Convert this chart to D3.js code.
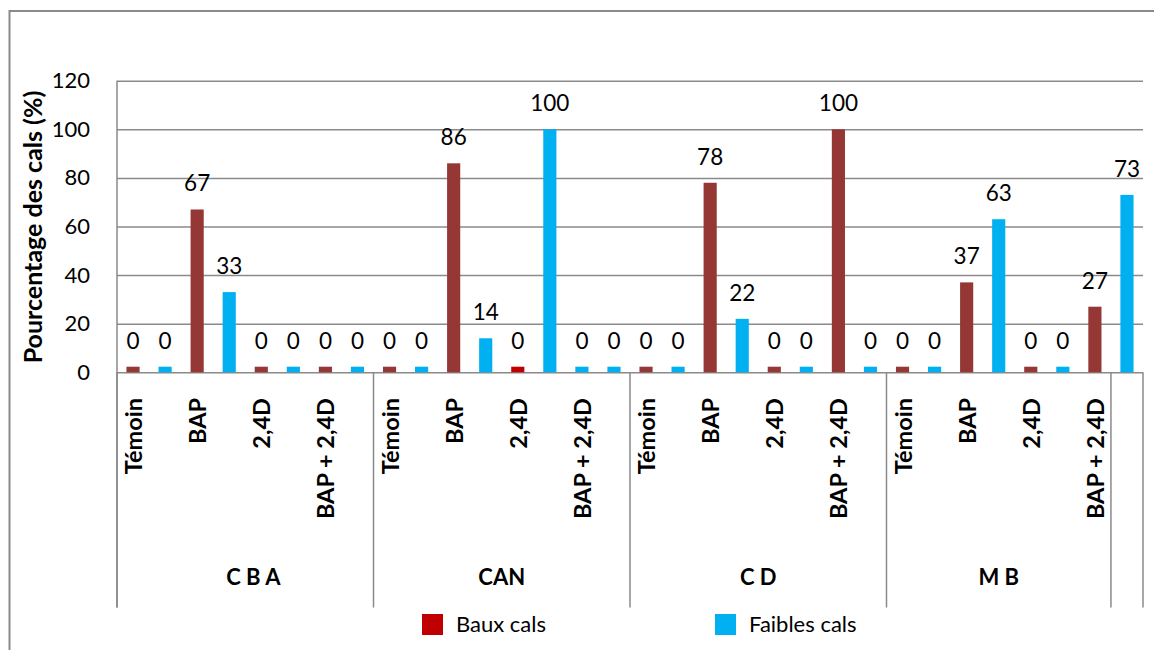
<!DOCTYPE html>
<html><head><meta charset="utf-8">
<script src="https://cdn.jsdelivr.net/npm/d3@7/dist/d3.min.js"></script>
<style>
body{margin:0;background:#fff}
svg{display:block}
text{font-family:Lato,"Open Sans",sans-serif;fill:#000}
</style>
</head><body>
<svg id="c" width="1154" height="650"></svg>
<script>
// ---- data ----
const slotLabels = [
  "Témoin","","BAP","","2,4D","","BAP + 2,4D","",
  "Témoin","","BAP","","2,4D","","BAP + 2,4D","",
  "Témoin","","BAP","","2,4D","","BAP + 2,4D","",
  "Témoin","","BAP","","2,4D","","BAP + 2,4D",
  ""
];
const slotGroups = [
  "C B A","C B A","C B A","C B A","C B A","C B A","C B A","C B A",
  "CAN","CAN","CAN","CAN","CAN","CAN","CAN","CAN",
  "C D","C D","C D","C D","C D","C D","C D","C D",
  "M B","M B","M B","M B","M B","M B","M B",
  ""
];
const slotSeries = [
  "baux","faibles","baux","faibles","baux","faibles","baux","faibles",
  "baux","faibles","baux","faibles","baux2","faibles","faibles","faibles",
  "baux","faibles","baux","faibles","baux","faibles","baux","faibles",
  "baux","faibles","baux","faibles","baux","faibles","baux","faibles"
];
const values = [
  0,0,67,33,0,0,0,0,
  0,0,86,14,0,100,0,0,
  0,0,78,22,0,0,100,0,
  0,0,37,63,0,0,27,73
];
const yTicks = [0,20,40,60,80,100,120];
const legendNames = ["Baux cals","Faibles cals"];
const yTitle = "Pourcentage des cals (%)";

// ---- style ----
const colors = {baux:"#953735", baux2:"#C00000", faibles:"#00B0F0"};
const legendColors = ["#C00000","#00B0F0"];
const gridColor = "#8a8a8a";
const plotL = 117, plotR = 1143, plotT = 80.7, plotB = 372.3, axisBottom = 607.5;
const zeroStub = 2.3;
const fs = 22;

const svg = d3.select("#c");
svg.append("rect").attr("width",1154).attr("height",650).attr("fill","#fff");

// outer frame
svg.append("path").attr("d","M9.5,650V11H1154").attr("fill","none")
  .attr("stroke",gridColor).attr("stroke-width",2);

const x = d3.scaleBand().domain(d3.range(values.length)).range([plotL,plotR]).padding(0);
const y = d3.scaleLinear().domain([0,120]).range([plotB,plotT]);

// y axis with gridlines
const yAxis = svg.append("g").attr("transform",`translate(${plotL},0)`)
  .call(d3.axisLeft(y).tickValues(yTicks).tickSize(-(plotR-plotL)).tickPadding(27));
yAxis.select(".domain").remove();
yAxis.selectAll(".tick line").attr("stroke",gridColor).attr("stroke-width",1.5);
yAxis.selectAll(".tick text").attr("font-size",fs).attr("font-family","Lato").attr("fill","#000");

// value axis line
svg.append("line").attr("x1",plotL).attr("x2",plotL).attr("y1",plotT).attr("y2",axisBottom)
  .attr("stroke",gridColor).attr("stroke-width",1.5);

// group boundaries
const groups = [];
slotGroups.forEach((g,i)=>{
  if(i===0 || g!==slotGroups[i-1]) groups.push({name:g,start:i,end:i});
  else groups[groups.length-1].end = i;
});
const bounds = groups.map(g=>x(g.start)).concat([plotR]);
svg.selectAll(".gb").data(bounds).enter().append("line")
  .attr("x1",d=>d).attr("x2",d=>d).attr("y1",plotB).attr("y2",axisBottom)
  .attr("stroke",gridColor).attr("stroke-width",1.5);

// bars
const bw = x.bandwidth()*0.41;
const shown = v => Math.max(v, zeroStub);
svg.selectAll(".bar").data(values).enter().append("rect")
  .attr("x",(d,i)=>x(i)+(x.bandwidth()-bw)/2)
  .attr("y",d=>y(shown(d)))
  .attr("width",bw)
  .attr("height",d=>y(0)-y(shown(d)))
  .attr("fill",(d,i)=>colors[slotSeries[i]]);

// value labels
svg.selectAll(".vl").data(values).enter().append("text")
  .attr("x",(d,i)=>x(i)+x.bandwidth()/2)
  .attr("y",d=>y(shown(d))-18)
  .attr("text-anchor","middle").attr("font-size",fs+0.5)
  .text(d=>d);

// category labels
svg.selectAll(".cl").data(slotLabels).enter().append("text")
  .attr("transform",(d,i)=>`translate(${x(i)+x.bandwidth()/2},398) rotate(-90)`)
  .attr("text-anchor","end").attr("dominant-baseline","central")
  .attr("font-size",fs+1.5).attr("font-weight","bold")
  .text(d=>d);

// group labels
svg.selectAll(".gl").data(groups).enter().append("text")
  .attr("x",g=>(x(g.start)+x(g.end)+x.bandwidth())/2)
  .attr("y",585)
  .attr("text-anchor","middle").attr("font-size",fs).attr("font-weight","bold")
  .style("white-space","pre")
  .text(g=>g.name === "C B A" ? "   " + g.name : g.name);

// y title
svg.append("text").attr("transform","translate(32,227) rotate(-90)")
  .attr("text-anchor","middle").attr("dominant-baseline","central")
  .attr("font-size",fs+3).attr("font-weight","bold").text(yTitle);

// legend
const legX = [422, 715];
legendNames.forEach((n,k)=>{
  svg.append("rect").attr("x",legX[k]).attr("y",614).attr("width",21).attr("height",21)
    .attr("fill",legendColors[k]);
  svg.append("text").attr("x",legX[k]+34).attr("y",632).attr("font-size",fs).text(n);
});
</script>
</body></html>
